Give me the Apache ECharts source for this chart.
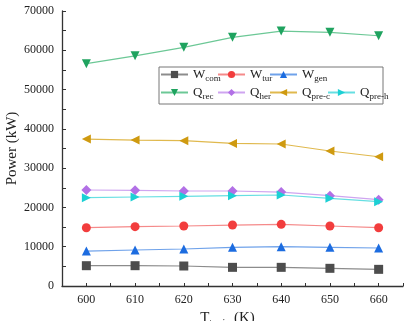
<!DOCTYPE html>
<html><head><meta charset="utf-8">
<script src="https://cdn.jsdelivr.net/npm/echarts@6/dist/echarts.min.js"></script>
<style>html,body{margin:0;padding:0;background:#fff}#c{width:408px;height:321px}</style>
</head><body><div id="c"></div>
<script>
const temps = [600, 610, 620, 630, 640, 650, 660];
const Wcom = [5170, 5170, 5090, 4750, 4750, 4500, 4240];
const Wtur = [14840, 15100, 15270, 15520, 15690, 15270, 14840];
const Wgen = [8900, 9160, 9420, 9840, 10010, 9840, 9670];
const Qrec = [56600, 58600, 60750, 63300, 64900, 64560, 63700];
const Qher = [24430, 24350, 24180, 24180, 23920, 22990, 21970];
const QpreC = [37400, 37150, 36980, 36300, 36140, 34360, 32900];
const QpreH = [22480, 22650, 22820, 22990, 23160, 22310, 21460];
const yTicks = [0, 10000, 20000, 30000, 40000, 50000, 60000, 70000];
const xTicks = [600, 610, 620, 630, 640, 650, 660];

const font = '"Liberation Serif", "DejaVu Serif", serif';
const pairs = a => temps.map((t, i) => [t, a[i]]);
function mk(name, data, marker, line, symbol, rot) {
  return {
    name, type: 'line', data: pairs(data), symbol, symbolSize: symbol === 'diamond' ? 10 : 9,
    symbolRotate: rot || 0,
    itemStyle: { color: marker }, lineStyle: { color: line, width: 1.2 }, emphasis: { disabled: true }
  };
}
const series = [
  mk('Wcom', Wcom, '#4d4d4d', '#8c8c8c', 'rect'),
  mk('Wtur', Wtur, '#f23d3d', '#f58a8a', 'circle'),
  mk('Wgen', Wgen, '#1c6ce0', '#6fa2ea', 'triangle'),
  mk('Qrec', Qrec, '#1fa35f', '#6cc896', 'triangle', 180),
  mk('Qher', Qher, '#b270e6', '#cfa5f0', 'diamond'),
  mk('QpreC', QpreC, '#cf9a10', '#e0b94e', 'triangle', 90),
  mk('QpreH', QpreH, '#1cd0d4', '#66dfe2', 'triangle', -90)
];
const labelMap = {
  Wcom: '{m|W}{s|com}', Wtur: '{m|W}{s|tur}', Wgen: '{m|W}{s|gen}',
  Qrec: '{m|Q}{s|rec}', Qher: '{m|Q}{s|her}', QpreC: '{m|Q}{s|pre-c}', QpreH: '{m|Q}{s|pre-h}'
};
const legendPos = {
  Wcom: [160, 68], Wtur: [217, 68], Wgen: [269, 68],
  Qrec: [160, 86], Qher: [217, 86], QpreC: [269, 86], QpreH: [327, 86]
};
const legends = Object.keys(legendPos).map(n => ({
  data: [n], left: legendPos[n][0], top: legendPos[n][1], padding: 0,
  itemWidth: 27, itemHeight: 9, itemGap: 0,
  formatter: x => labelMap[x],
  textStyle: { rich: {
    m: { fontFamily: font, fontSize: 13, color: '#222' },
    s: { fontFamily: font, fontSize: 9, color: '#222', padding: [8, 0, 0, 0] } } }
}));
const chart = echarts.init(document.getElementById('c'));
chart.setOption({
  animation: false,
  backgroundColor: '#fff',
  grid: { left: 62, right: 5, top: 11, bottom: 35, containLabel: false, outerBoundsMode: 'none' },
  xAxis: {
    type: 'value', min: 595, max: 665, interval: 5,
    axisLine: { lineStyle: { color: '#333', width: 1.3 } },
    axisTick: { inside: true, length: 3, lineStyle: { color: '#333' } },
    splitLine: { show: false },
    axisLabel: { fontFamily: font, fontSize: 12, color: '#222', margin: 8,
      formatter: v => xTicks.includes(v) ? String(v) : '' },
    name: '{m|T}{s|tur,in}{m| (K)}', nameLocation: 'middle', nameGap: 18,
    nameTextStyle: { padding: [0, 10, 0, 0], rich: {
      m: { fontFamily: font, fontSize: 15, color: '#222' },
      s: { fontFamily: font, fontSize: 10, color: '#222', padding: [9, 0, 0, 0] } } }
  },
  yAxis: {
    type: 'value', min: 0, max: 70000, interval: 5000,
    axisLine: { show: true, lineStyle: { color: '#333', width: 1.3 } },
    axisTick: { show: true, inside: true, length: 4, lineStyle: { color: '#333' } },
    splitLine: { show: false },
    axisLabel: { fontFamily: font, fontSize: 12, color: '#222', margin: 8,
      formatter: v => yTicks.includes(v) ? String(v) : '' },
    name: 'Power (kW)', nameLocation: 'middle', nameGap: 42, nameMoveOverlap: false,
    nameTextStyle: { fontFamily: font, fontSize: 15, color: '#222' }
  },
  legend: legends,
  graphic: [{ type: 'rect', shape: { x: 159, y: 67, width: 224, height: 37 },
    style: { fill: 'none', stroke: '#777', lineWidth: 1 }, silent: true }],
  series
});
</script></body></html>
